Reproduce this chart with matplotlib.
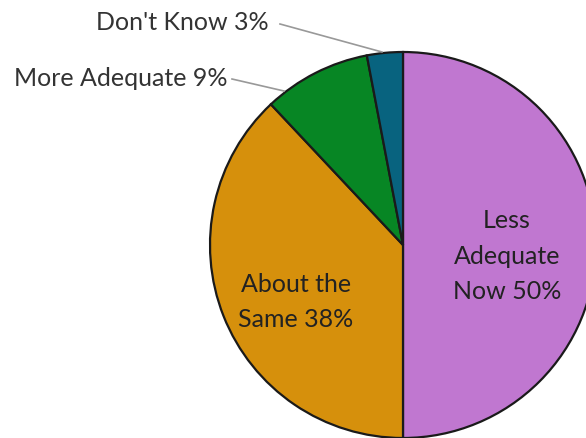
import matplotlib.pyplot as plt

labels = ["Less\nAdequate\nNow 50%", "About the\nSame 38%", "More Adequate 9%", "Don't Know 3%"]
values = [50, 38, 9, 3]
colors = ["#C077D0", "#D6900C", "#078624", "#08637F"]

H = 438
fig = plt.figure(figsize=(5.86, 4.38), dpi=100)
ax = fig.add_axes([0, 0, 1, 1])

wedges, _ = ax.pie(values, colors=colors, startangle=90, counterclock=False,
                   center=(403, H - 245), radius=193,
                   wedgeprops=dict(edgecolor="#1a1a1a", linewidth=1.6))
ax.set_xlim(0, 586)
ax.set_ylim(0, H)
ax.set_aspect("equal")
ax.axis("off")

font = "Lato"
fs = 18
# labels inside the two big slices
ax.text(507, H - 256, labels[0], ha="center", va="center", fontsize=fs,
        family=font, color="#222222", linespacing=1.68)
ax.text(296, H - 302, labels[1], ha="center", va="center", fontsize=fs,
        family=font, color="#222222", linespacing=1.68)

# outside labels with leader lines
ax.text(227, H - 78, labels[2], ha="right", va="center", fontsize=fs,
        family=font, color="#333333")
ax.plot([232, 284], [H - 79, H - 91], color="#999999", lw=1.2)
ax.text(269, H - 22, labels[3], ha="right", va="center", fontsize=fs,
        family=font, color="#333333")
ax.plot([280, 382], [H - 24, H - 52], color="#999999", lw=1.2)

fig.savefig("out.png", dpi=100)
